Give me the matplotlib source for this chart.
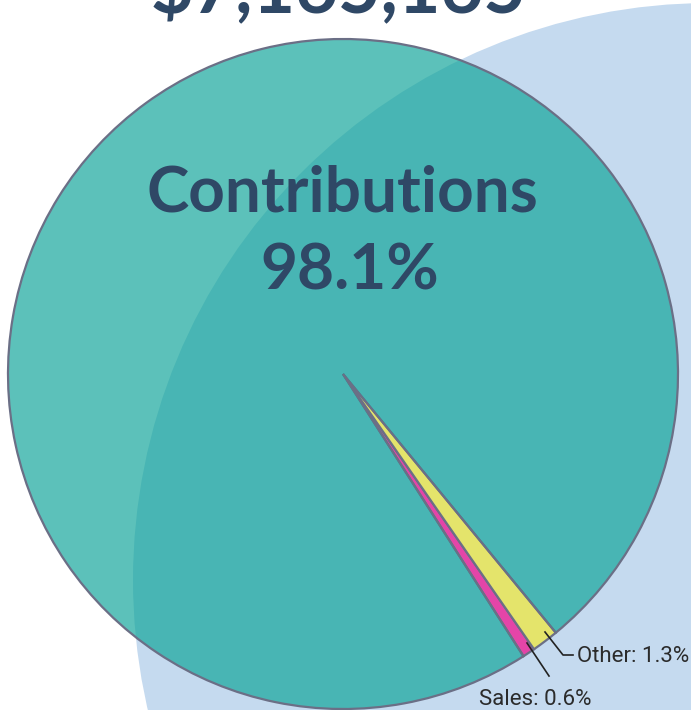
import matplotlib.pyplot as plt
from matplotlib.patches import Circle

# data
labels = ['Sales', 'Other', 'Contributions']
shares = [0.6, 1.3, 98.1]
total_text = '$7,165,165'
colors = [(0.894, 0.271, 0.659, 1.0), (0.894, 0.894, 0.42, 1.0), (0.03, 0.635, 0.59, 0.66)]

W, H = 691, 710
fig = plt.figure(figsize=(W / 100, H / 100), dpi=100)
ax = fig.add_axes([0, 0, 1, 1])

# light blue backdrop circle
ax.add_patch(Circle((710, H - 580), 577, color='#c5daef', zorder=0, lw=0))

cx, cy, r = 343, H - 374, 335
ax.pie(shares, colors=colors, startangle=-57.4, center=(cx, cy), radius=r,
       wedgeprops=dict(edgecolor='#6b6f86', linewidth=1.6))

ax.set_xlim(0, W)
ax.set_ylim(0, H)
ax.set_aspect('equal')
ax.axis('off')

navy = '#2f4866'
big = ['Lato', 'DejaVu Sans']
ax.text(339, H - 13, total_text, ha='center', va='baseline', fontsize=53,
        fontweight='bold', family=big, color=navy)
ax.text(342, H - 211, 'Contributions', ha='center', va='baseline', fontsize=46,
        fontweight='bold', family=big, color=navy)
ax.text(350, H - 290, f'{shares[2]}%', ha='center', va='baseline', fontsize=46,
        fontweight='bold', family=big, color=navy)

# leader lines and small labels
ax.plot([545, 563, 573], [H - 632, H - 655, H - 655], color='#222222', lw=1.2)
ax.plot([527, 549], [H - 643, H - 676], color='#222222', lw=1.2)
small = ['Roboto', 'DejaVu Sans']
ax.text(577, H - 662, f'{labels[1]}: {shares[1]}%', ha='left', va='baseline',
        fontsize=16, family=small, color='#2b2b2b')
ax.text(479, H - 705, f'{labels[0]}: {shares[0]}%', ha='left', va='baseline',
        fontsize=16, family=small, color='#2b2b2b')

fig.savefig('out.png', dpi=100)
